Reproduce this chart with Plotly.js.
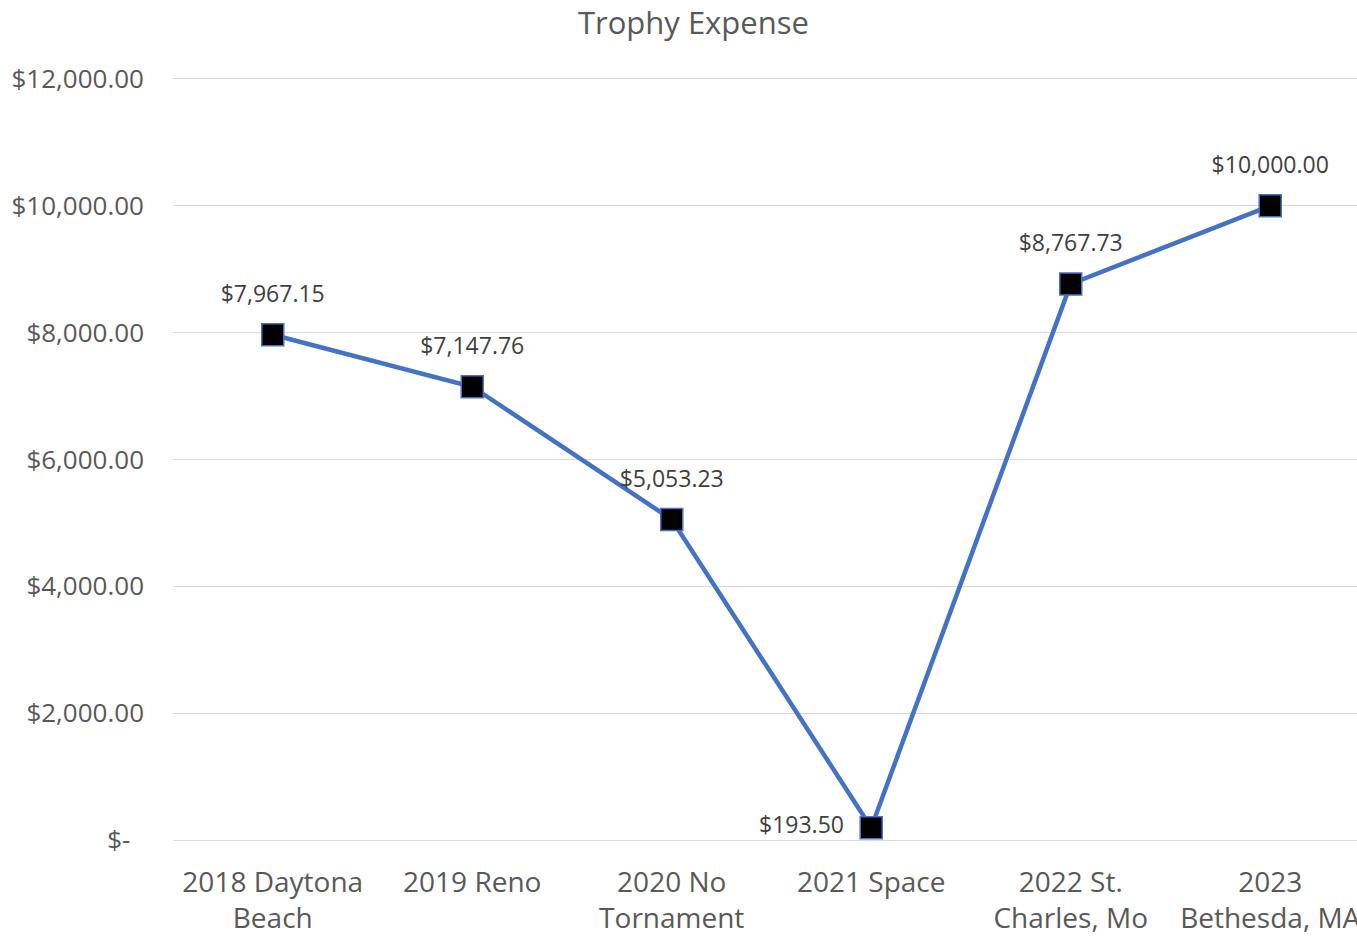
<!DOCTYPE html>
<html>
<head>
<meta charset="utf-8">
<script src="https://cdn.plot.ly/plotly-3.0.1.min.js"></script>
<style>html,body{margin:0;padding:0;background:#fff;overflow:hidden}#chart{width:1357px;height:937px}</style>
</head>
<body>
<div id="chart"></div>
<script>
const categories = ["2018 Daytona<br>Beach", "2019 Reno", "2020 No<br>Tornament", "2021 Space", "2022 St.<br>Charles, Mo", "2023<br>Bethesda, MA"];
const expense = [7967.15, 7147.76, 5053.23, 193.50, 8767.73, 10000.00];
const labelPositions = ["top center", "top center", "top center", "middle left", "top center", "top center"];
const yTickVals = [0, 2000, 4000, 6000, 8000, 10000, 12000];
const yTickText = ["$-\u00a0\u00a0", "$2,000.00", "$4,000.00", "$6,000.00", "$8,000.00", "$10,000.00", "$12,000.00"];

const xIdx = categories.map((c, i) => i);

const lineTrace = {
  x: xIdx,
  y: expense,
  type: "scatter",
  mode: "lines+markers",
  line: {color: "#4472C4", width: 4.5},
  marker: {symbol: "square", size: 22, color: "#000000", line: {color: "#4472C4", width: 1.5}},
  hoverinfo: "skip",
  cliponaxis: false
};

const labelTrace = {
  x: xIdx,
  y: expense,
  type: "scatter",
  mode: "markers+text",
  marker: {symbol: "square", size: 42, opacity: 0},
  texttemplate: "%{y:$,.2f}",
  textposition: labelPositions,
  textfont: {family: "Open Sans", size: 23, color: "#404040"},
  hoverinfo: "skip",
  cliponaxis: false
};

const layout = {
  width: 1357, height: 937,
  margin: {l: 173, r: 0, t: 79, b: 97},
  paper_bgcolor: "#ffffff", plot_bgcolor: "#ffffff",
  showlegend: false,
  title: {text: "Trophy Expense", x: 0.511, xref: "container", xanchor: "center", y: 0.975, yref: "container", yanchor: "middle",
          font: {family: "Open Sans", size: 31, color: "#595959"}},
  xaxis: {
    range: [-0.5, 5.435],
    tickvals: xIdx, ticktext: categories,
    showgrid: false, zeroline: false,
    showline: true, mirror: true, linecolor: "#d9d9d9", linewidth: 1.3,
    ticks: "",
    tickfont: {family: "Open Sans", size: 28, color: "#595959"},
    ticklabelstandoff: 17,
    ticklabeloverflow: "allow",
    fixedrange: true
  },
  yaxis: {
    range: [0, 12000],
    tickvals: yTickVals, ticktext: yTickText,
    showgrid: true, gridcolor: "#d9d9d9", gridwidth: 1.3,
    zeroline: false, showline: false, ticks: "",
    tickfont: {family: "Open Sans", size: 26, color: "#595959"},
    ticklabelstandoff: 28,
    fixedrange: true
  },
  hovermode: false
};

Plotly.newPlot("chart", [lineTrace, labelTrace], layout, {staticPlot: true, displayModeBar: false});
</script>
</body>
</html>
